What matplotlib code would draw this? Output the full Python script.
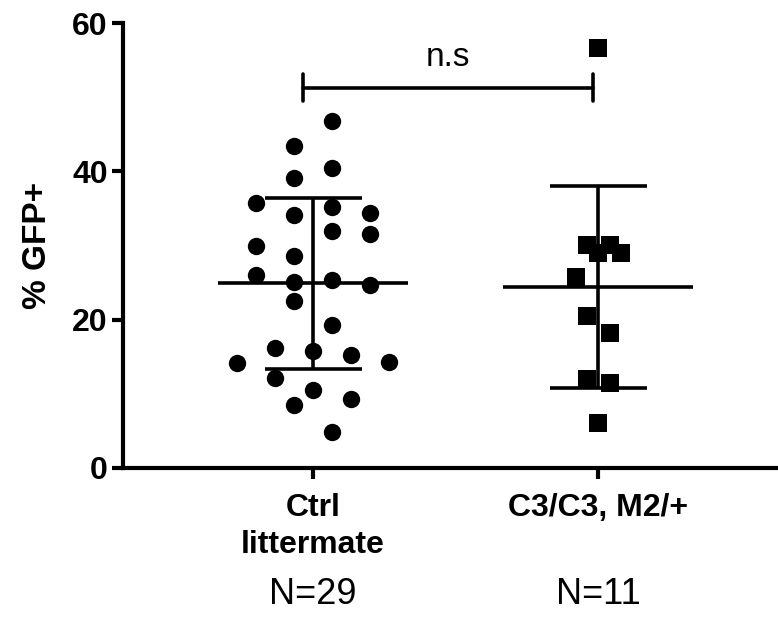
import matplotlib
matplotlib.use("Agg")
import matplotlib.pyplot as plt
import matplotlib.transforms as mtransforms

plt.rcParams['font.family'] = ['Liberation Sans', 'DejaVu Sans']

categories = ["Ctrl\nlittermate", "C3/C3, M2/+"]
n_labels = ["N=29", "N=11"]

ctrl_values = [46.8, 43.4, 40.4, 39.1, 35.7, 35.2, 34.1, 34.4, 32.0, 31.6,
               29.9, 28.6, 26.0, 25.1, 25.4, 24.7, 22.5, 19.3, 16.2, 15.8,
               15.3, 14.2, 14.3, 12.2, 10.5, 8.5, 9.3, 4.9]
ctrl_jitter = [1, -1, 1, -1, -3, 1, -1, 3, 1, 3,
               -3, -1, -3, -1, 1, 3, -1, 1, -2, 0,
               2, -4, 4, -2, 0, -1, 2, 1]
c3_values = [56.6, 30.1, 30.1, 29.0, 29.0, 25.8, 20.5, 18.2, 12.0, 11.5, 6.1]
c3_jitter = [0, -1, 1, 0, 2, -2, -1, 1, -1, 1, 0]

means = [24.9, 24.4]
sds = [11.5, 13.65]

sig_label = "n.s"
sig_y = 51.3
yticks = [0, 20, 40, 60]

fig = plt.figure(figsize=(7.78, 6.27), dpi=100)
ax = fig.add_axes([0.158, 0.2536, 0.842, 0.7097])

ctrl_step = 0.0667
c3_step = 0.04
ax.plot([0 + j * ctrl_step for j in ctrl_jitter], ctrl_values, 'o', color='black',
        markersize=12.5, markeredgewidth=0, zorder=3)
ax.plot([1 + j * c3_step for j in c3_jitter], c3_values, 's', color='black',
        markersize=12.5, markeredgewidth=0, zorder=3)

lw = 2.6
for i, (m, s) in enumerate(zip(means, sds)):
    ax.hlines(m, i - 0.333, i + 0.333, color='black', lw=lw, zorder=4)
    ax.hlines([m - s, m + s], i - 0.17, i + 0.17, color='black', lw=lw, zorder=4)
    ax.vlines(i, m - s, m + s, color='black', lw=lw, zorder=4)

# significance bracket
x0, x1 = -0.035, 0.982
ax.plot([x0, x1], [sig_y, sig_y], color='black', lw=lw, solid_capstyle='round')
ax.plot([x0, x0], [sig_y - 1.8, sig_y + 1.8], color='black', lw=lw, solid_capstyle='round')
ax.plot([x1, x1], [sig_y - 1.8, sig_y + 1.8], color='black', lw=lw, solid_capstyle='round')
ax.text((x0 + x1) / 2, sig_y + 2.0, sig_label, ha='center', va='bottom', fontsize=24)

ax.set_xlim(-0.667, 1.63)
ax.set_ylim(0, 60)
ax.set_yticks(yticks)
ax.set_xticks([0, 1])
ax.set_xticklabels(categories, fontweight='bold', fontsize=23, linespacing=1.3)
for lab in ax.get_yticklabels():
    lab.set_fontweight('bold')
    lab.set_fontsize(23)
ax.set_ylabel("% GFP+", fontweight='bold', fontsize=24, labelpad=14)

for sp in ['top', 'right']:
    ax.spines[sp].set_visible(False)
for sp in ['left', 'bottom']:
    ax.spines[sp].set_linewidth(3)
ax.tick_params(axis='both', width=3, length=8)
ax.tick_params(axis='y', pad=3)
ax.tick_params(axis='x', pad=10)

trans = mtransforms.blended_transform_factory(ax.transData, fig.transFigure)
for i, t in enumerate(n_labels):
    ax.text(i, 1 - 594 / 627, t, transform=trans, ha='center', va='center', fontsize=26)

fig.savefig("out.png", dpi=100)
